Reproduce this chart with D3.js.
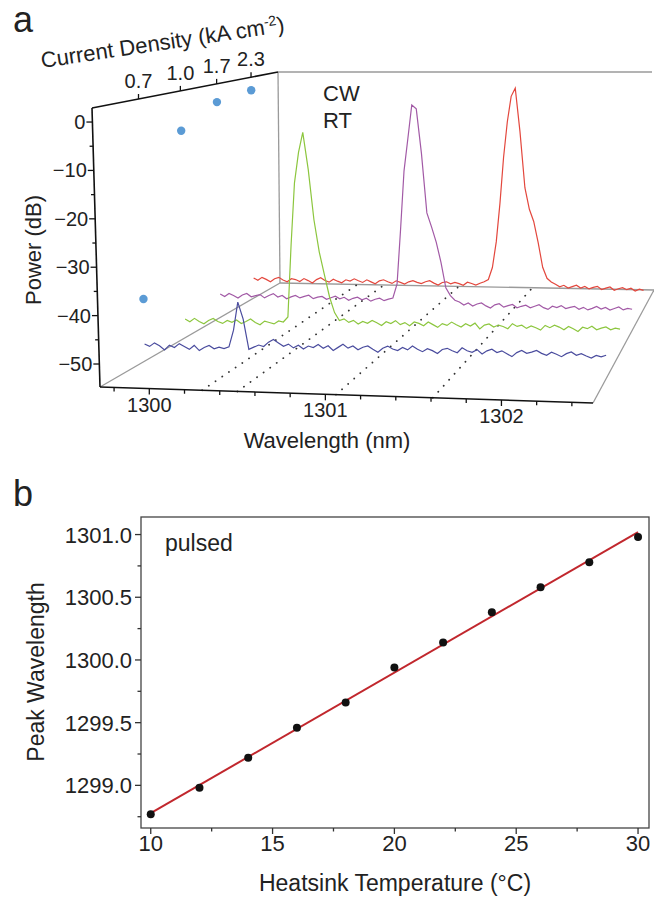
<!DOCTYPE html>
<html>
<head>
<meta charset="utf-8">
<script src="https://cdn.jsdelivr.net/npm/d3@7"></script>
<style>
  body { margin: 0; background: #fff; }
  text { font-family: "Liberation Sans", Arial, sans-serif; fill: #222; }
</style>
</head>
<body>
<script>
// ---------- panel a data ----------
var currents = [0.7, 1.0, 1.7, 2.3];            // kA cm-2
var peakPower = [-41.1, -6.4, -1.6, -0.5];       // dB, dots on side wall
var peakWl = [1300.30, 1300.50, 1301.06, 1301.61]; // dotted guides on floor
var wlStart = 1299.72, wlStep = 0.03;            // sampling of the spectra

var specBlue = [
  -51.0, -51.5, -50.7, -51.3, -52.2, -51.1, -51.6, -50.7, -51.3, -51.9,
  -51.0, -52.1, -51.4, -50.9, -51.6, -51.2, -51.5, -51.1, -47.4, -41.2,
  -44.9, -51.5, -51.0, -50.5, -50.8, -49.8, -49.2, -49.9, -50.6, -50.1,
  -50.9, -50.3, -51.1, -50.4, -50.7, -50.0, -50.8, -50.2, -51.2, -50.5,
  -49.8, -50.6, -50.1, -50.9, -50.3, -50.0, -50.7, -51.3, -50.4, -49.9,
  -50.5, -50.8, -50.1, -50.6, -49.7, -50.4, -50.9, -50.2, -50.6, -51.2,
  -50.3, -50.0, -50.5, -50.9, -49.8, -50.4, -50.7, -50.1, -51.0, -50.3,
  -49.9, -50.6, -50.2, -50.8, -51.4, -50.5, -50.0, -50.6, -50.3, -49.9,
  -50.5, -50.9, -50.2, -50.6, -51.1, -50.4, -50.0, -50.7, -50.3, -50.8,
  -51.2, -50.6, -50.9, -50.5];
var specGreen = [
  -50.4, -51.0, -50.2, -50.9, -51.4, -50.6, -50.1, -50.8, -51.2, -50.5,
  -50.9, -50.3, -51.1, -50.6, -50.0, -50.8, -51.3, -50.4, -50.7, -51.0,
  -50.3, -50.5, -49.3, -32.5, -18.0, -10.9, -6.2, -14.8, -26.5, -34.0,
  -39.3, -44.4, -48.0, -49.8, -49.4, -50.2, -49.7, -50.5, -49.9, -50.3,
  -49.6, -50.1, -50.7, -49.8, -50.2, -49.5, -50.4, -49.9, -50.6, -49.7,
  -50.0, -50.5, -49.6, -50.2, -50.8, -49.9, -50.3, -49.5, -50.1, -50.6,
  -49.8, -50.3, -49.6, -50.9, -50.0, -49.7, -50.4, -49.9, -50.2, -50.7,
  -49.5, -50.1, -49.8, -50.5, -49.9, -50.3, -50.8, -49.7, -50.2, -49.6,
  -50.0, -50.6, -49.8, -50.3, -50.9, -49.9, -50.2, -49.6, -50.4, -50.0,
  -49.7, -50.3, -49.9, -50.1];
var specPurple = [
  -49.0, -49.6, -48.8, -49.3, -49.9, -49.1, -48.7, -49.5, -49.2, -48.9,
  -49.7, -49.1, -48.6, -49.4, -49.0, -49.8, -49.3, -48.9, -49.5, -49.1,
  -48.8, -49.6, -49.2, -49.0, -49.7, -49.3, -48.9, -49.5, -49.1, -49.8,
  -49.3, -49.0, -49.6, -49.2, -49.9, -49.4, -49.1, -49.7, -49.3, -49.0,
  -45.5, -32.1, -17.8, -9.8, -1.65, -2.6, -13.45, -28.0, -31.4, -35.1,
  -40.0, -46.2, -48.1, -49.2, -49.6, -50.3, -49.8, -50.5, -50.0, -49.7,
  -50.4, -50.9, -50.1, -49.8, -50.6, -50.2, -49.9, -50.7, -50.3, -50.0,
  -50.6, -50.2, -49.8, -50.5, -50.9, -50.1, -50.4, -49.9, -50.6, -50.3,
  -50.0, -50.7, -50.2, -50.8, -50.4, -49.9, -50.5, -50.1, -50.7, -50.3,
  -49.9, -50.6, -50.2, -50.4];
var specRed = [
  -49.5, -50.1, -49.3, -49.8, -50.4, -49.6, -49.2, -49.9, -50.3, -49.5,
  -49.7, -50.2, -49.4, -49.9, -50.5, -49.6, -49.1, -49.8, -50.2, -49.4,
  -49.9, -50.3, -49.5, -49.8, -49.2, -49.7, -50.1, -49.4, -49.9, -50.4,
  -49.6, -49.3, -49.8, -50.2, -49.5, -49.9, -50.3, -49.7, -49.4, -49.8,
  -50.1, -49.6, -49.3, -49.9, -50.4, -49.7, -49.5, -50.0, -49.6, -49.9,
  -50.3, -49.5, -49.8, -50.2, -49.7, -49.3, -48.7, -45.6, -39.0, -29.1,
  -17.3, -8.2, -1.6, 0.5, -10.7, -25.0, -30.5, -33.6, -39.0, -45.3,
  -48.1, -49.0, -49.6, -50.2, -49.8, -50.5, -50.1, -49.7, -50.4, -50.0,
  -50.6, -50.2, -49.9, -50.7, -50.3, -50.0, -50.8, -50.4, -50.1, -50.6,
  -50.2, -50.9, -50.4, -50.7];

var powerTicks = [0, -10, -20, -30, -40, -50];
var wlTicks = [1300, 1301, 1302];

// ---------- panel b data ----------
var temps = [10, 12, 14, 16, 18, 20, 22, 24, 26, 28, 30];
var peakWavelength = [1298.77, 1298.98, 1299.22, 1299.46, 1299.66, 1299.94,
                      1300.14, 1300.38, 1300.58, 1300.78, 1300.98];

var w = 654, h = 904;
var svg = d3.select('body').append('svg').attr('width', w).attr('height', h);

// ---------- panel a: pseudo 3D box ----------
var xW = d3.scaleLinear().domain([1299.72, 1302.52]).range([0, 1]);
var yP = d3.scaleLinear().domain([-54.75, 2.9]).range([0, 1]);
var depthIdx = d3.scalePoint().domain(currents).range([0, 1]);
var depth = d3.scalePow().exponent(0.9).domain([0, 1]).range([0.25, 0.855]);

// corners of front and back planes (u = wavelength, v = power)
var F = { o: [100, 387], u: [593, 403], v: [92, 108], uv: [585, 124] };
var B = { o: [280, 283], u: [654, 290], v: [278, 72], uv: [652, 72] };

function bil(c, u, v) {
  return [0, 1].map(k => (1 - u) * (1 - v) * c.o[k] + u * (1 - v) * c.u[k] +
                         (1 - u) * v * c.v[k] + u * v * c.uv[k]);
}
function proj(u, s, v) {
  var a = bil(F, u, v), b = bil(B, u, v);
  return [a[0] + (b[0] - a[0]) * s, a[1] + (b[1] - a[1]) * s];
}
function seg(p, q, stroke, sw) {
  return svg.append('line')
    .attr('x1', p[0]).attr('y1', p[1]).attr('x2', q[0]).attr('y2', q[1])
    .attr('stroke', stroke).attr('stroke-width', sw);
}

// gray walls / floor
var gray = '#9a9a9a';
seg(proj(0, 0, 0), proj(0, 1, 0), gray, 1.3);
seg(proj(0, 1, 0), proj(1, 1, 0), gray, 1.3);
seg(proj(1, 0, 0), proj(1, 1, 0), gray, 1.3);
seg(proj(0, 1, 0), proj(0, 1, 1), gray, 1.3);
seg(proj(0, 1, 1), proj(1, 1, 1), gray, 1.3);

// dotted guides on the floor
peakWl.forEach(function (d) {
  seg(proj(xW(d), 0, 0), proj(xW(d), 1, 0), '#333', 1.8)
    .attr('stroke-dasharray', '0.1 8')
    .attr('stroke-linecap', 'round');
});

// spectra, back to front
var series = [
  { c: 2.3, values: specRed, color: '#e3473d' },
  { c: 1.7, values: specPurple, color: '#a25aa6' },
  { c: 1.0, values: specGreen, color: '#8cc63e' },
  { c: 0.7, values: specBlue, color: '#4a4c9e' }
];
var line = d3.line();
series.forEach(function (sr) {
  var s = depth(depthIdx(sr.c));
  var pts = sr.values.map((p, i) => proj(xW(wlStart + i * wlStep), s, yP(p)));
  svg.append('path').attr('d', line(pts))
    .attr('fill', 'none').attr('stroke', sr.color).attr('stroke-width', 1.2);
});

// black axes
seg(proj(0, 0, 0), proj(0, 0, 1), '#111', 1.6);
seg(proj(0, 0, 0), proj(1, 0, 0), '#111', 1.6);
seg(proj(0, 0, 1), proj(0, 1, 1), '#111', 1.6);

// power axis
var fmtP = d3.format('d');
d3.range(-50, 1, 5).forEach(function (p) {
  var pt = proj(0, 0, yP(p));
  var major = p % 10 === 0;
  seg([pt[0] - (major ? 6 : 3.5), pt[1]], pt, '#111', 1.3);
  if (major) {
    svg.append('text').attr('x', pt[0] - 7).attr('y', pt[1] + 7)
      .attr('text-anchor', 'end').attr('font-size', 20).text(fmtP(p));
  }
});

// wavelength axis
d3.range(0, 14).forEach(function (i) {
  var wl = 1299.8 + i * 0.2;
  var pt = proj(xW(wl), 0, 0);
  var major = Math.abs(wl - Math.round(wl)) < 1e-6;
  seg(pt, [pt[0], pt[1] + (major ? 6 : 4)], '#111', 1.3);
});
wlTicks.forEach(function (t) {
  var pt = proj(xW(t), 0, 0);
  svg.append('text').attr('x', pt[0]).attr('y', pt[1] + 23)
    .attr('text-anchor', 'middle').attr('font-size', 20).text(t);
});

// current density axis (top left edge)
var fmtC = d3.format('.1f');
currents.forEach(function (c) {
  var pt = proj(0, depth(depthIdx(c)), 1);
  seg(pt, [pt[0], pt[1] - 5], '#111', 1.3);
  svg.append('text').attr('x', pt[0]).attr('y', pt[1] - 11)
    .attr('text-anchor', 'middle').attr('font-size', 20).text(fmtC(c));
});

// peak power dots on the side wall
svg.selectAll('circle.pk')
  .data(currents)
  .enter()
  .append('circle')
  .attr('class', 'pk')
  .attr('cx', (d, i) => proj(0, depth(depthIdx(d)), yP(peakPower[i]))[0])
  .attr('cy', (d, i) => proj(0, depth(depthIdx(d)), yP(peakPower[i]))[1])
  .attr('r', 4.2)
  .attr('fill', '#5b9bd5');

// titles panel a
svg.append('text').attr('x', 13).attr('y', 32).attr('font-size', 36).text('a');
svg.append('text').attr('transform', 'translate(41,250) rotate(-90)')
  .attr('text-anchor', 'middle').attr('font-size', 22).text('Power (dB)');
svg.append('text').attr('x', 327).attr('y', 448)
  .attr('text-anchor', 'middle').attr('font-size', 22).text('Wavelength (nm)');
var cd = svg.append('text').attr('transform', 'translate(42,68) rotate(-8.5)')
  .attr('font-size', 22);
cd.append('tspan').text('Current Density (kA cm');
cd.append('tspan').attr('dy', -8).attr('font-size', 14).text('-2');
cd.append('tspan').attr('dy', 8).text(')');
svg.append('text').attr('x', 323).attr('y', 101).attr('font-size', 22).text('CW');
svg.append('text').attr('x', 323).attr('y', 128).attr('font-size', 22).text('RT');

// ---------- panel b ----------
var x = d3.scaleLinear().domain([9.6, 30.45]).range([141, 649]);
var y = d3.scaleLinear().domain([1298.66, 1301.14]).range([828, 517]);

svg.append('rect').attr('x', 141).attr('y', 517).attr('width', 508).attr('height', 311)
  .attr('fill', 'none').attr('stroke', '#444').attr('stroke-width', 1.3);

var fmtY = d3.format('.1f');
d3.range(0, 10).forEach(function (i) {
  var v = 1298.75 + i * 0.25;
  var major = i % 2 === 1;
  seg([141 - (major ? 6 : 3.5), y(v)], [141, y(v)], '#333', 1.3);
  if (major) {
    svg.append('text').attr('x', 132).attr('y', y(v) + 8)
      .attr('text-anchor', 'end').attr('font-size', 22).text(fmtY(v));
  }
});
d3.range(0, 9).forEach(function (i) {
  var v = 10 + i * 2.5;
  var major = i % 2 === 0;
  seg([x(v), 828], [x(v), 828 + (major ? 6 : 3.5)], '#333', 1.3);
  if (major) {
    svg.append('text').attr('x', x(v)).attr('y', 851)
      .attr('text-anchor', 'middle').attr('font-size', 22).text(v);
  }
});

// linear fit
var mT = d3.mean(temps), mL = d3.mean(peakWavelength);
var slope = d3.sum(temps, (t, i) => (t - mT) * (peakWavelength[i] - mL)) /
            d3.sum(temps, t => (t - mT) * (t - mT));
var fit = d3.extent(temps).map(t => [x(t), y(mL + slope * (t - mT))]);
svg.append('path').attr('d', d3.line()(fit))
  .attr('stroke', '#c1272d').attr('stroke-width', 2).attr('fill', 'none');

svg.selectAll('circle.pt')
  .data(temps)
  .enter()
  .append('circle')
  .attr('class', 'pt')
  .attr('cx', d => x(d))
  .attr('cy', (d, i) => y(peakWavelength[i]))
  .attr('r', 4)
  .attr('fill', '#111');

svg.append('text').attr('x', 13).attr('y', 506).attr('font-size', 36).text('b');
svg.append('text').attr('x', 165).attr('y', 551).attr('font-size', 23).text('pulsed');
svg.append('text').attr('transform', 'translate(44,672) rotate(-90)')
  .attr('text-anchor', 'middle').attr('font-size', 23).text('Peak Wavelength');
svg.append('text').attr('x', 395).attr('y', 891)
  .attr('text-anchor', 'middle').attr('font-size', 23).text('Heatsink Temperature (°C)');
</script>
</body>
</html>
